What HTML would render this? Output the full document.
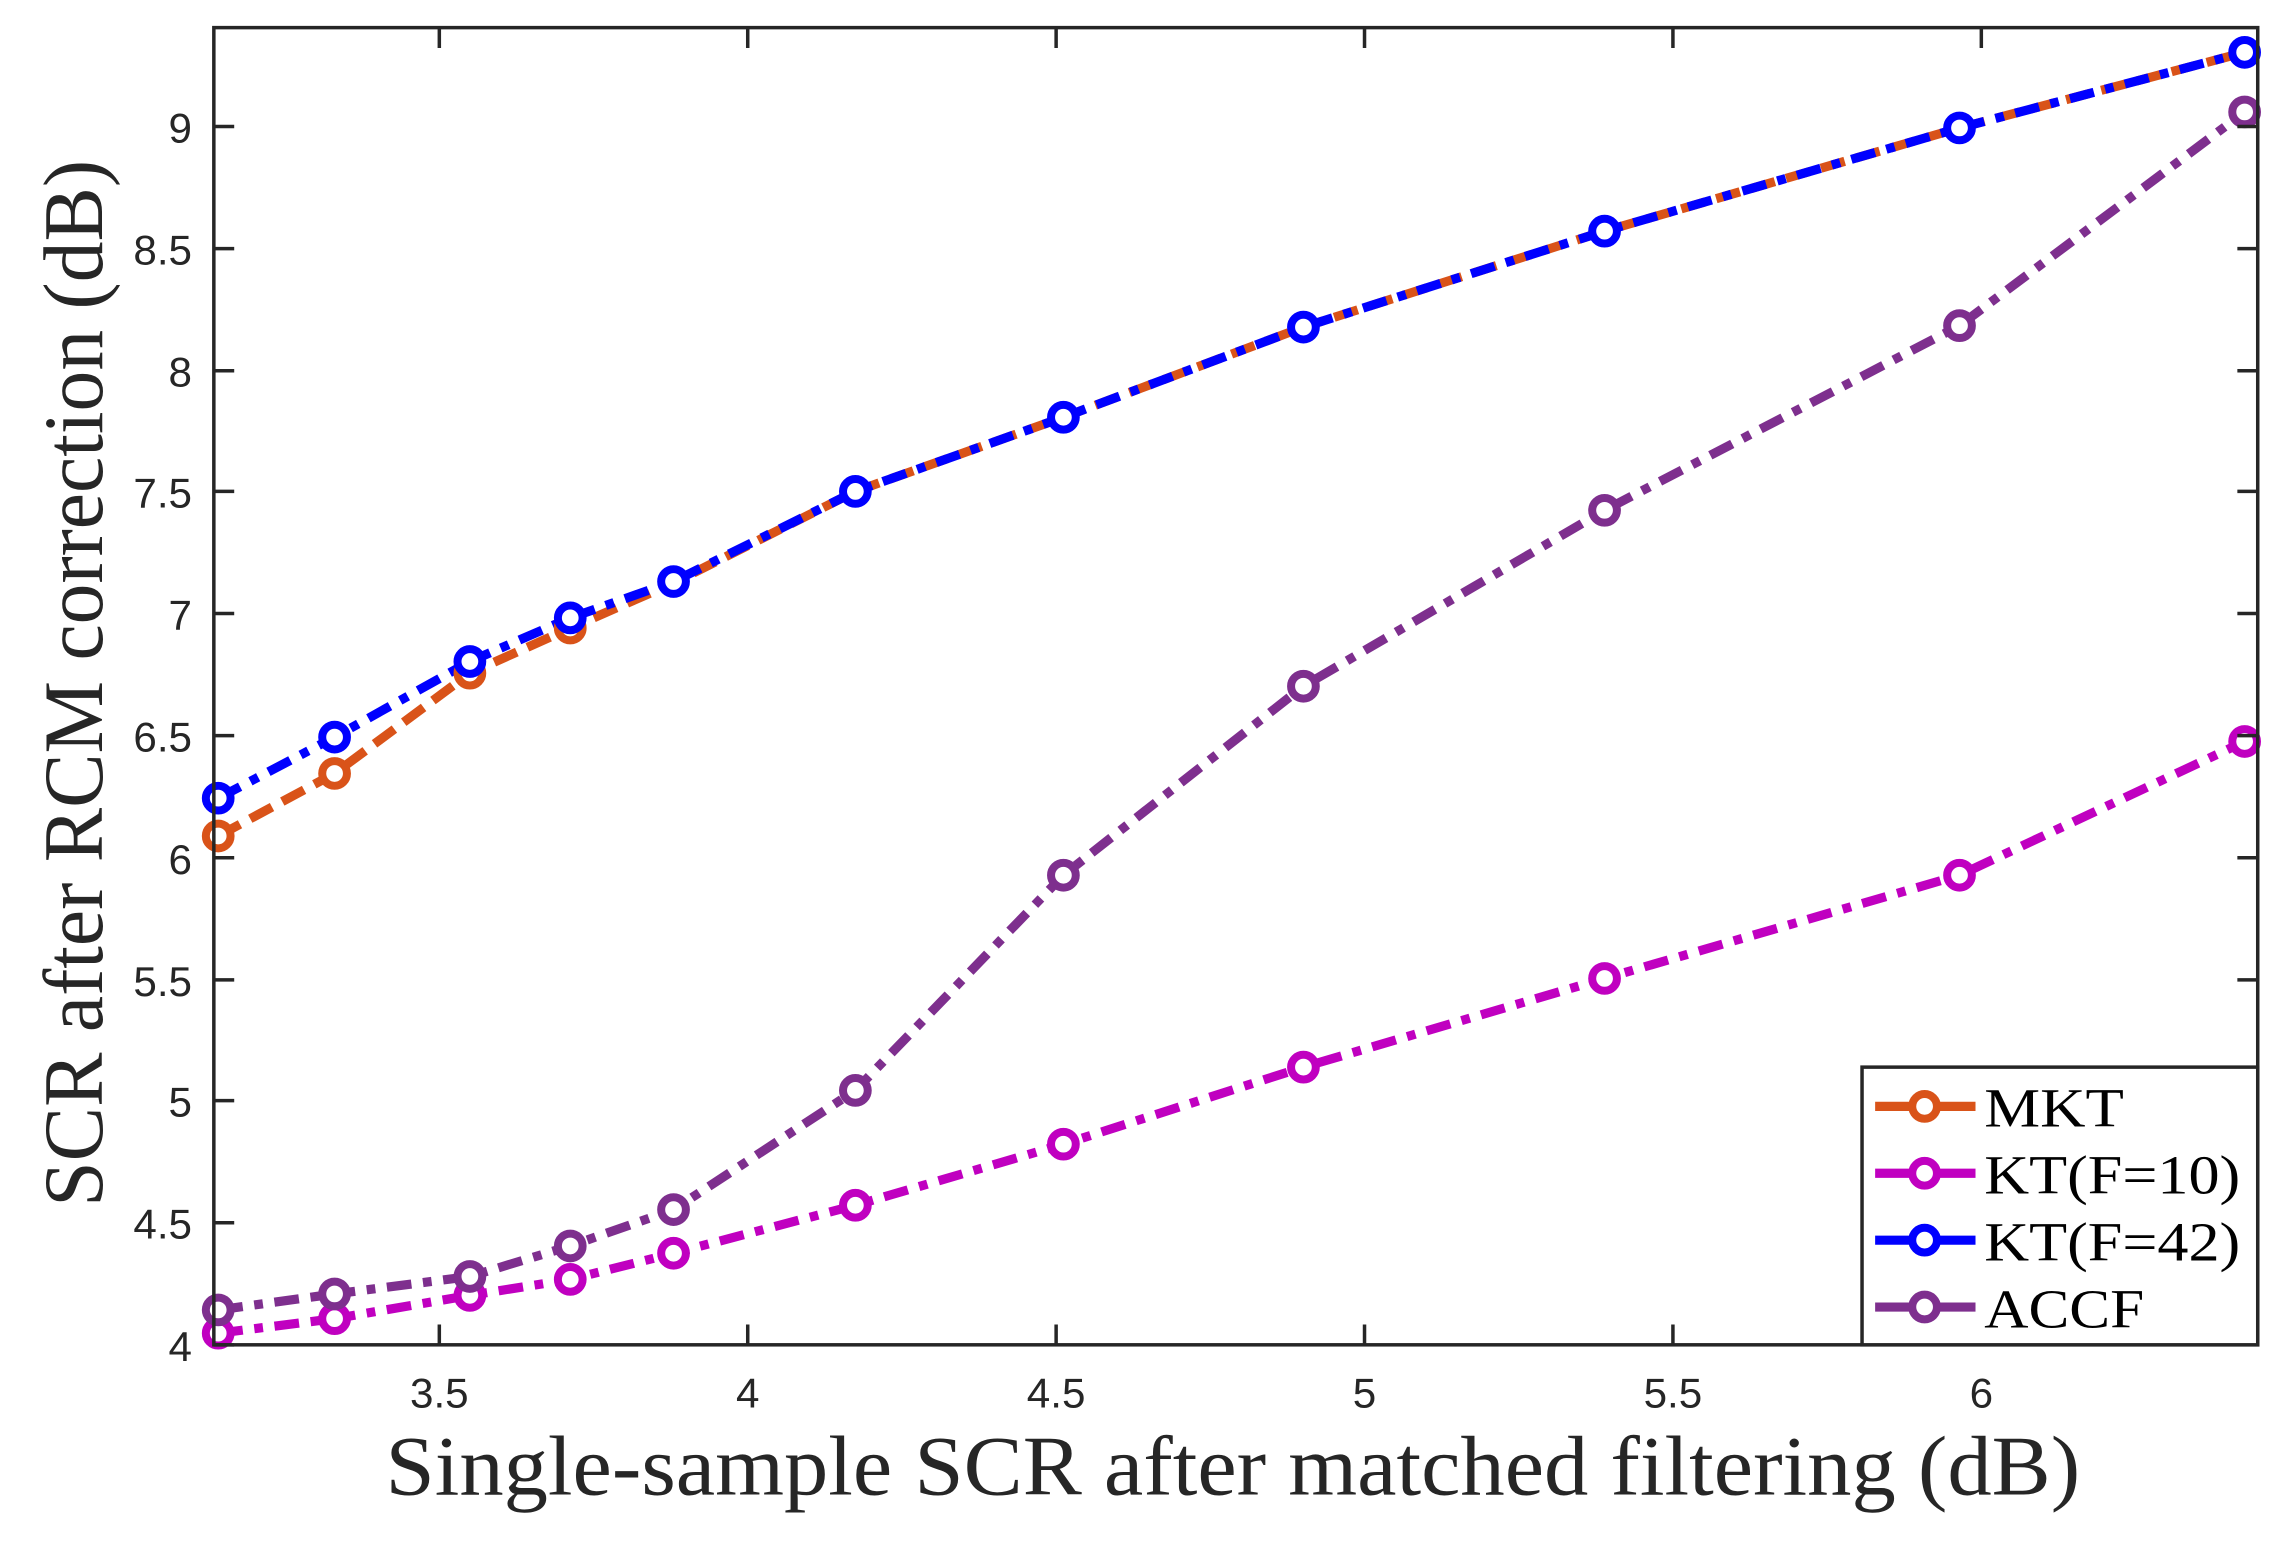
<!DOCTYPE html>
<html><head><meta charset="utf-8"><style>html,body{margin:0;padding:0;background:#fff}svg{display:block}</style></head>
<body>
<svg width="2281" height="1544" viewBox="0 0 1568 1062" preserveAspectRatio="none" xmlns="http://www.w3.org/2000/svg">
<rect width="1568" height="1062" fill="#fff"/>
<g fill="none" stroke-width="6.3" stroke-linejoin="round">
<polyline stroke="#D95319" stroke-dasharray="17,8" points="150,575 230,532 323,463 392,432 463,401 588,338 731,287 896,225 1103,159 1347,88 1543,36"/>
<polyline stroke="#0000FF" stroke-dasharray="17,8,6,8" points="150,549 230,507 323,455 392,425 463,400 588,338 731,287 896,225 1103,159 1347,88 1543,36"/>
<polyline stroke="#C000C0" stroke-dasharray="17,8,6,8" points="150,917 230,907 323,891 392,880 463,862 588,829 731,787 896,734 1103,673 1347,602 1543,510"/>
<polyline stroke="#7E2F8E" stroke-dasharray="17,8,6,8" points="150,901 230,890 323,878 392,857 463,832 588,750 731,602 896,472 1103,351 1347,224 1543,77"/>
</g>
<g fill="#fff" stroke-width="5.5">
<g stroke="#D95319"><circle cx="150" cy="575" r="8.5"/><circle cx="230" cy="532" r="8.5"/><circle cx="323" cy="463" r="8.5"/><circle cx="392" cy="432" r="8.5"/></g>
<g stroke="#0000FF"><circle cx="150" cy="549" r="8.5"/><circle cx="230" cy="507" r="8.5"/><circle cx="323" cy="455" r="8.5"/><circle cx="392" cy="425" r="8.5"/><circle cx="463" cy="400" r="8.5"/><circle cx="588" cy="338" r="8.5"/><circle cx="731" cy="287" r="8.5"/><circle cx="896" cy="225" r="8.5"/><circle cx="1103" cy="159" r="8.5"/><circle cx="1347" cy="88" r="8.5"/><circle cx="1543" cy="36" r="8.5"/></g>
<g stroke="#C000C0"><circle cx="150" cy="917" r="8.5"/><circle cx="230" cy="907" r="8.5"/><circle cx="323" cy="891" r="8.5"/><circle cx="392" cy="880" r="8.5"/><circle cx="463" cy="862" r="8.5"/><circle cx="588" cy="829" r="8.5"/><circle cx="731" cy="787" r="8.5"/><circle cx="896" cy="734" r="8.5"/><circle cx="1103" cy="673" r="8.5"/><circle cx="1347" cy="602" r="8.5"/><circle cx="1543" cy="510" r="8.5"/></g>
<g stroke="#7E2F8E"><circle cx="150" cy="901" r="8.5"/><circle cx="230" cy="890" r="8.5"/><circle cx="323" cy="878" r="8.5"/><circle cx="392" cy="857" r="8.5"/><circle cx="463" cy="832" r="8.5"/><circle cx="588" cy="750" r="8.5"/><circle cx="731" cy="602" r="8.5"/><circle cx="896" cy="472" r="8.5"/><circle cx="1103" cy="351" r="8.5"/><circle cx="1347" cy="224" r="8.5"/><circle cx="1543" cy="77" r="8.5"/></g>
</g>
<g stroke="#262626" stroke-width="2.4" fill="none">
<rect x="147" y="19" width="1405" height="906"/>
<path d="M302,925v-14M514,925v-14M726,925v-14M938,925v-14M1150,925v-14M1362,925v-14M302,19v14M514,19v14M726,19v14M938,19v14M1150,19v14M1362,19v14"/>
<path d="M147,925h14M147,841h14M147,757h14M147,674h14M147,590h14M147,506h14M147,422h14M147,338h14M147,255h14M147,171h14M147,87h14M1552,841h-14M1552,757h-14M1552,674h-14M1552,590h-14M1552,506h-14M1552,422h-14M1552,338h-14M1552,255h-14M1552,171h-14M1552,87h-14"/>
</g>
<g font-family="Liberation Sans, sans-serif" font-size="29" fill="#262626" text-anchor="end">
<text x="132" y="936">4</text><text x="132" y="852">4.5</text><text x="132" y="768">5</text><text x="132" y="685">5.5</text><text x="132" y="601">6</text><text x="132" y="517">6.5</text><text x="132" y="433">7</text><text x="132" y="349">7.5</text><text x="132" y="266">8</text><text x="132" y="182">8.5</text><text x="132" y="98">9</text>
</g>
<g font-family="Liberation Sans, sans-serif" font-size="29" fill="#262626" text-anchor="middle">
<text x="302" y="968">3.5</text><text x="514" y="968">4</text><text x="726" y="968">4.5</text><text x="938" y="968">5</text><text x="1150" y="968">5.5</text><text x="1362" y="968">6</text>
</g>
<text x="265" y="1028" textLength="1165" lengthAdjust="spacingAndGlyphs" font-family="Liberation Serif, serif" font-size="58" fill="#262626">Single-sample SCR after matched filtering (dB)</text>
<text transform="translate(70,830) rotate(-90)" textLength="720" lengthAdjust="spacingAndGlyphs" font-family="Liberation Serif, serif" font-size="58" fill="#262626">SCR after RCM correction (dB)</text>
<rect x="1280" y="734" width="272" height="191" fill="#fff" stroke="#262626" stroke-width="2.4"/>
<g stroke-width="6.3" fill="#fff">
<path d="M1289,761h69" stroke="#D95319"/><circle cx="1323" cy="761" r="8.5" stroke="#D95319" stroke-width="5.5"/>
<path d="M1289,807h69" stroke="#C000C0"/><circle cx="1323" cy="807" r="8.5" stroke="#C000C0" stroke-width="5.5"/>
<path d="M1289,853h69" stroke="#0000FF"/><circle cx="1323" cy="853" r="8.5" stroke="#0000FF" stroke-width="5.5"/>
<path d="M1289,899h69" stroke="#7E2F8E"/><circle cx="1323" cy="899" r="8.5" stroke="#7E2F8E" stroke-width="5.5"/>
</g>
<g font-family="Liberation Serif, serif" font-size="38" fill="#000">
<text x="1364" y="775" textLength="96" lengthAdjust="spacingAndGlyphs">MKT</text><text x="1364" y="821" textLength="176" lengthAdjust="spacingAndGlyphs">KT(F=10)</text><text x="1364" y="867" textLength="176" lengthAdjust="spacingAndGlyphs">KT(F=42)</text><text x="1364" y="913" textLength="110" lengthAdjust="spacingAndGlyphs">ACCF</text>
</g>
</svg>
</body></html>
